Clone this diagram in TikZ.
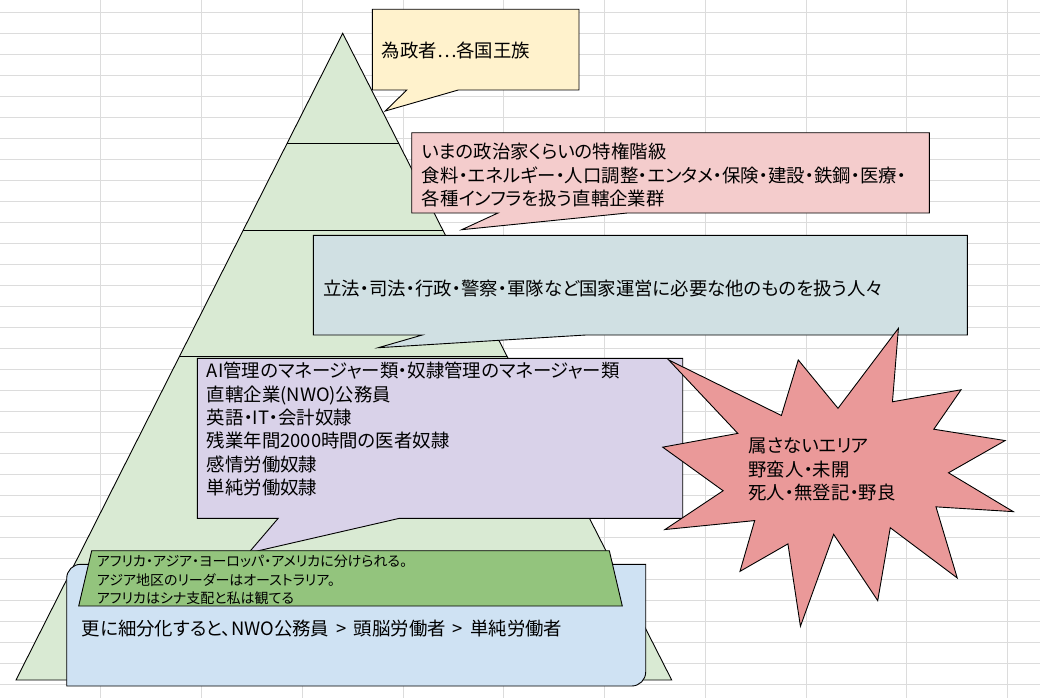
\documentclass[tikz,border=0pt]{standalone}
\usepackage{fontspec}
\setmainfont{Noto Sans CJK JP}[RawFeature={+palt}]
\usetikzlibrary{calc}

\definecolor{gridgray}{HTML}{DCDCDC}
\definecolor{pyramidgreen}{HTML}{D9EAD3}
\definecolor{noteyellow}{HTML}{FFF2CC}
\definecolor{notepink}{HTML}{F4CCCC}
\definecolor{notecyan}{HTML}{D0E0E3}
\definecolor{notepurple}{HTML}{D9D2E9}
\definecolor{starred}{HTML}{EA9999}
\definecolor{bandgreen}{HTML}{93C47D}
\definecolor{noteblue}{HTML}{CFE2F3}

\begin{document}
\begin{tikzpicture}[x=1pt, y=-1pt,
    gridline/.style={draw=gridgray, line width=0.8pt},
    outline/.style={draw=black, line width=0.9pt, line join=miter},
    bigtext/.style={anchor=west, inner sep=0pt, align=left, font=\fontsize{18.4}{23.3}\selectfont},
    smalltext/.style={anchor=west, inner sep=0pt, align=left, font=\fontsize{14}{18.3}\selectfont}]
  \useasboundingbox[fill=white] (0,0) rectangle (1040,698);
  % spreadsheet grid
  \foreach \k in {0,...,32}
    \draw[gridline] (0,{12.3+21*\k}) -- (1040,{12.3+21*\k});
  \foreach \k in {1,...,10}
    \draw[gridline] ({100.75*\k},0) -- ({100.75*\k},698);

  % pyramid
  \coordinate (apex) at (342.7,33.3);
  \coordinate (bl)   at (16,680);
  \coordinate (br)   at (671.7,680);
  \filldraw[outline, fill=pyramidgreen] (apex) -- (br) -- (bl) -- cycle;
  \foreach \t in {0.1701,0.3052,0.5001}
    \draw[outline] ($(apex)!\t!(bl)$) -- ($(apex)!\t!(br)$);

  % callouts
  \filldraw[outline, fill=noteyellow] (372.3,9.3) -- (579,9.3) -- (579,90) -- (458.3,90)
    -- (385.3,111) -- (406.8,90) -- (372.3,90) -- cycle;
  \node[bigtext] (ruler) at (381.7,50) {為政者…各国王族};

  \filldraw[outline, fill=notepink] (411.7,132.7) -- (929.3,132.7) -- (929.3,213) -- (627.4,213)
    -- (461.7,229.7) -- (498,213) -- (411.7,213) -- cycle;
  \node[bigtext] (privileged) at (421.7,175)
    {いまの政治家くらいの特権階級\\食料・エネルギー・人口調整・エンタメ・保険・建設・鉄鋼・医療・\\各種インフラを扱う直轄企業群};

  \filldraw[outline, fill=notecyan] (313.3,235.3) -- (967.3,235.3) -- (967.3,335) -- (585.8,335)
    -- (378.3,347.7) -- (422.3,335) -- (313.3,335) -- cycle;
  \node[bigtext] (state) at (323.3,288.3)
    {立法・司法・行政・警察・軍隊など国家運営に必要な他のものを扱う人々};

  \filldraw[outline, fill=notepurple] (197.3,358.3) -- (682.7,358.3) -- (682.7,518.3) -- (399.5,518.3)
    -- (248.5,553) -- (278.2,518.3) -- (197.3,518.3) -- cycle;
  \node[bigtext] (workers) at (206.7,429.2)
    {AI管理のマネージャー類・奴隷管理のマネージャー類\\直轄企業(NWO)公務員\\英語・IT・会計奴隷\\残業年間2000時間の医者奴隷\\感情労働奴隷\\単純労働奴隷};

  % explosion
  \begin{scope}[shift={(662.7,328.3)}, xscale=1.6231, yscale=1.3796]
    \filldraw[outline, fill=starred] (108,58) -- (145.22,0) -- (141.55,53.25) -- (183.8,44.57)
      -- (167.02,73.15) -- (210.97,81.37) -- (176.07,104.75) -- (216,132.9) -- (168.37,129.42)
      -- (181.45,180.95) -- (140.2,144.57) -- (132.47,197.37) -- (105.32,149.35) -- (84.85,216)
      -- (77.15,156.27) -- (47.62,176.17) -- (56.67,139.37) -- (1.35,145.87) -- (37.22,117.75)
      -- (0,86.15) -- (46.27,76.17) -- (3.7,22.95) -- (73.12,63.2) -- (83.52,22.95) -- cycle;
  \end{scope}
  \node[bigtext] (outside) at (748.3,469.5) {属さないエリア\\野蛮人・未開\\死人・無登記・野良};

  % bottom boxes
  \filldraw[outline, fill=noteblue] (66.7,686) -- (66.7,578.3) arc[start angle=180, end angle=270, radius=14]
    -- (645.7,564.3) -- (645.7,672) arc[start angle=0, end angle=90, radius=14] -- cycle;
  \node[bigtext] (subdivide) at (81.7,628.3)
    {更に細分化すると、NWO公務員 \,>\, 頭脳労働者 \,>\, 単純労働者};

  \filldraw[outline, fill=bandgreen] (91.7,550.7) -- (609.3,550.7) -- (622.3,606) -- (78.7,606) -- cycle;
  \node[smalltext] (regions) at (96.7,580)
    {アフリカ・アジア・ヨーロッパ・アメリカに分けられる。\\アジア地区のリーダーはオーストラリア。\\アフリカはシナ支配と私は観てる};
\end{tikzpicture}
\end{document}
